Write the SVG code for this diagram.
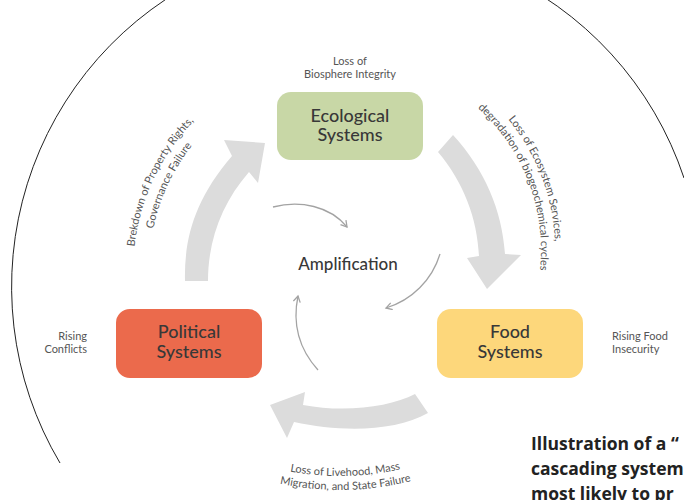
<svg xmlns="http://www.w3.org/2000/svg" xmlns:xlink="http://www.w3.org/1999/xlink" width="684" height="500" viewBox="0 0 684 500">
  <style>
    .node-title { font-family: Lato, "Open Sans", "DejaVu Sans", sans-serif; font-size: 18px; font-weight: 500; fill: #383838; text-anchor: middle; }
    .note { font-family: Lato, "Open Sans", "DejaVu Sans", sans-serif; font-size: 11px; fill: #555555; }
    .flow { fill: #dcdcdc; }
    .loop { fill: none; stroke: #a3a3a3; stroke-width: 1.3; }
    .caption { font-family: "Open Sans", "Noto Sans", sans-serif; font-size: 17.5px; font-weight: 700; fill: #222222; }
  </style>
  <defs>
    <marker id="chevron" markerWidth="10" markerHeight="10" refX="7" refY="4" orient="auto" markerUnits="userSpaceOnUse">
      <path d="M1,0.5 L7,4 L1,7.5" fill="none" stroke="#a3a3a3" stroke-width="1.3"/>
    </marker>
    <!-- baselines for the curved labels -->
    <path id="arc-left-1" d="M140.4,326.2 A215 215 0 0 1 259.1,75.1"/>
    <path id="arc-left-2" d="M155.8,322.0 A201 201 0 0 1 265.1,87.8"/>
    <path id="arc-right-1" d="M449.9,70.7 A205 205 0 0 1 543.8,316.7"/>
    <path id="arc-right-2" d="M442.6,83.0 A191 191 0 0 1 530.6,312.2"/>
    <path id="arc-bottom-1" d="M206.6,441.6 A276 276 0 0 0 482.6,436.3"/>
    <path id="arc-bottom-2" d="M199.8,453.9 A290 290 0 0 0 489.8,448.3"/>
  </defs>

  <rect width="684" height="500" fill="#ffffff"/>

  <!-- outer boundary arc -->
  <path d="M60,463 A345 345 0 1 1 684,178" fill="none" stroke="#222222" stroke-width="1"/>

  <g id="connectors">
    <!-- broad cycle arrows -->
    <path class="flow" d="M185,281 C184,240 194,200 232,156 L224,140 L265,143 L258,183 L249,172 C222,203 208,240 208,281 Z"/>
    <path class="flow" d="M453,135 C485,170 502,210 505,254 L521,255 L487,289 L467,258 L479,256 C477,218 464,183 438,152 Z"/>
    <path class="flow" d="M415,394 C390,407 345,413 303,405 L305,392 L270,405 L287,438 L294,422 C340,432 395,432 428,413 Z"/>
    <!-- inner amplification loop -->
    <path class="loop" d="M273,207 C300,200 330,206 347,227" marker-end="url(#chevron)"/>
    <path class="loop" d="M440,254 C432,280 412,300 386,308" marker-end="url(#chevron)"/>
    <path class="loop" d="M318,370 C300,350 292,325 298,296" marker-end="url(#chevron)"/>
  </g>

  <g id="node-ecological">
    <rect x="277" y="92" width="146" height="68" rx="14" fill="#c8d7a6"/>
    <text class="node-title" x="350" y="122">Ecological</text>
    <text class="node-title" x="350" y="141">Systems</text>
  </g>

  <g id="node-political">
    <rect x="116" y="309" width="146" height="69" rx="14" fill="#eb6a4c"/>
    <text class="node-title" x="189" y="338">Political</text>
    <text class="node-title" x="189" y="358">Systems</text>
  </g>

  <g id="node-food">
    <rect x="437" y="309" width="146" height="69" rx="14" fill="#fdd77b"/>
    <text class="node-title" x="510" y="338">Food</text>
    <text class="node-title" x="510" y="358">Systems</text>
  </g>

  <g id="node-amplification">
    <text class="node-title" x="348" y="270" style="font-size:17px">Amplification</text>
  </g>

  <g id="labels">
    <text class="note" x="350" y="65" text-anchor="middle">Loss of</text>
    <text class="note" x="350" y="78" text-anchor="middle">Biosphere Integrity</text>
    <text class="note" x="87" y="340" text-anchor="end">Rising</text>
    <text class="note" x="87" y="353" text-anchor="end">Conflicts</text>
    <text class="note" x="612" y="340">Rising Food</text>
    <text class="note" x="612" y="353">Insecurity</text>
    <text class="note" text-anchor="middle"><textPath xlink:href="#arc-left-1" href="#arc-left-1" startOffset="50%">Brekdown of Property Rights,</textPath></text>
    <text class="note" text-anchor="middle"><textPath xlink:href="#arc-left-2" href="#arc-left-2" startOffset="50%">Governance Failure</textPath></text>
    <text class="note" text-anchor="middle"><textPath xlink:href="#arc-right-1" href="#arc-right-1" startOffset="50%">Loss of Ecosystem Services,</textPath></text>
    <text class="note" text-anchor="middle"><textPath xlink:href="#arc-right-2" href="#arc-right-2" startOffset="50%">degradation of biogeochemical cycles</textPath></text>
    <text class="note" text-anchor="middle"><textPath xlink:href="#arc-bottom-1" href="#arc-bottom-1" startOffset="50%">Loss of Livehood, Mass</textPath></text>
    <text class="note" text-anchor="middle"><textPath xlink:href="#arc-bottom-2" href="#arc-bottom-2" startOffset="50%">Migration, and State Failure</textPath></text>
  </g>

  <g id="caption">
    <text class="caption" x="531" y="450">Illustration of a “</text>
    <text class="caption" x="531" y="475">cascading system</text>
    <text class="caption" x="531" y="500">most likely to pr</text>
  </g>
</svg>
